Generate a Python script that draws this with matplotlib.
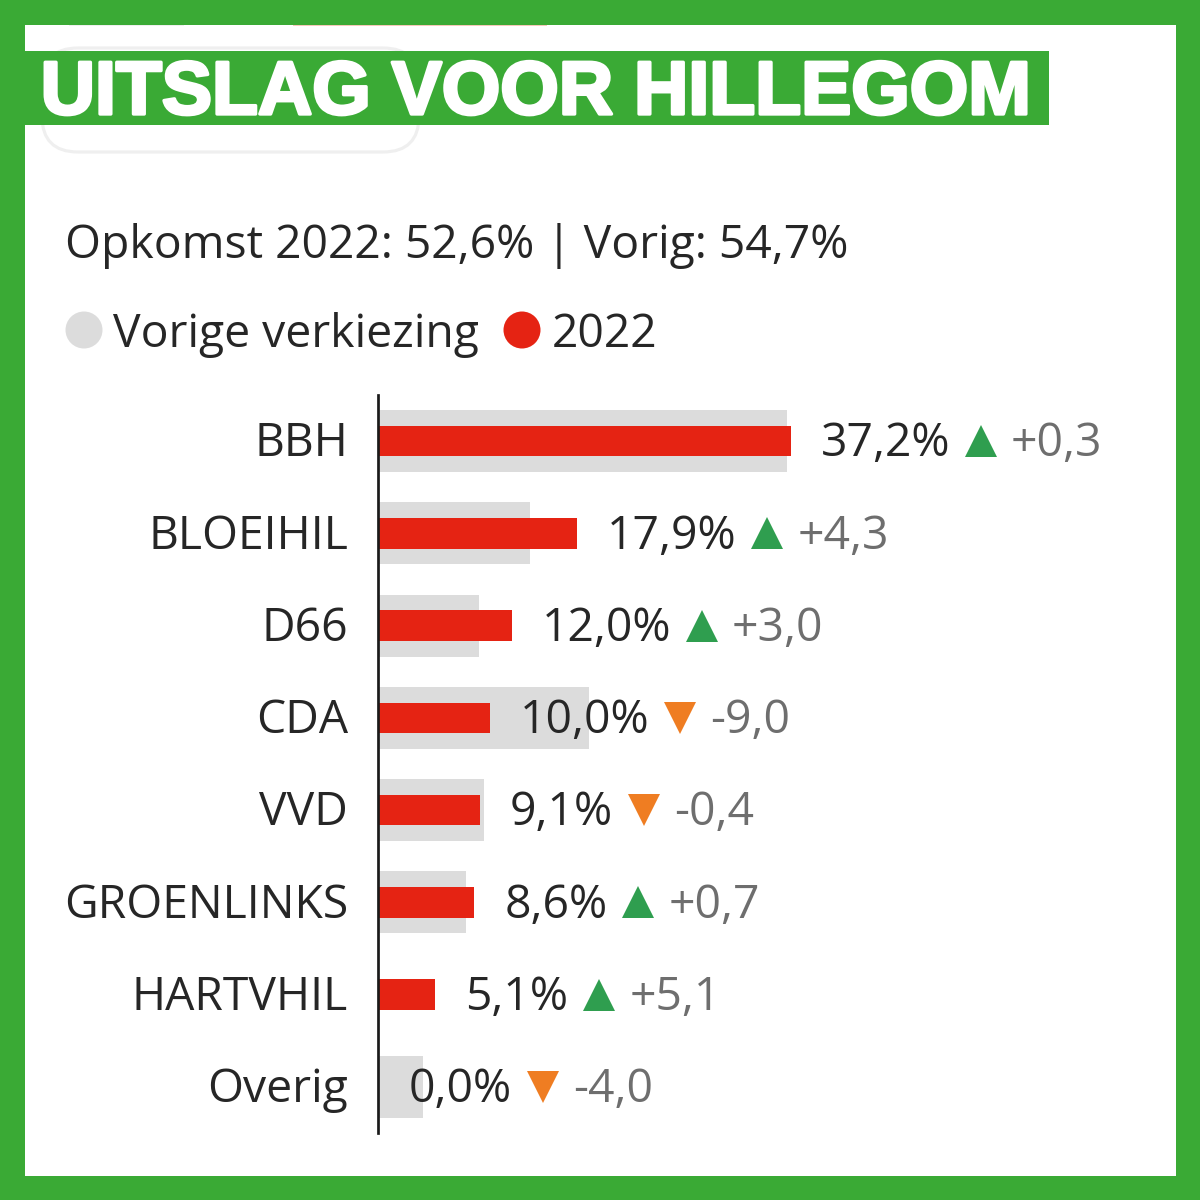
#!/usr/bin/env python3
import matplotlib
matplotlib.use("Agg")
import matplotlib.pyplot as plt
import matplotlib.patheffects as pe
from matplotlib.patches import Rectangle, Circle, FancyBboxPatch

plt.rcParams["font.family"] = ["Open Sans", "DejaVu Sans"]

GREEN = "#3aaa35"
RED = "#e52313"
GREY = "#dcdcdc"
TEXT = "#262626"
MUTED = "#6e6e6e"
UP = "#2f9e4f"
DOWN = "#ef7d22"
FS = 22.2

parties = ["BBH", "BLOEIHIL", "D66", "CDA", "VVD", "GROENLINKS", "HARTVHIL", "Overig"]
current = [37.2, 17.9, 12.0, 10.0, 9.1, 8.6, 5.1, 0.0]
change = [0.3, 4.3, 3.0, -9.0, -0.4, 0.7, 5.1, -4.0]
previous = [36.9, 13.6, 9.0, 19.0, 9.5, 7.9, 0.0, 4.0]

fig = plt.figure(figsize=(8, 8), dpi=150)
bg = fig.add_axes([0, 0, 1, 1])
bg.set_xlim(0, 1200)
bg.set_ylim(1200, 0)
bg.axis("off")

# frame
bg.add_patch(Rectangle((0, 0), 1200, 1200, color=GREEN, zorder=0))
bg.add_patch(Rectangle((24.5, 24.5), 1151, 1151, color="white", lw=0, zorder=1))

# leftovers of the screenshot around the banner
bg.add_patch(FancyBboxPatch((42, 48), 377, 104, boxstyle="round,pad=0,rounding_size=36",
                            fc="white", ec="#efefef", lw=1.5, zorder=2))
bg.add_patch(Rectangle((293, 24.5), 254, 1.5, color="#f6c9b8", lw=0, zorder=2))
bg.add_patch(Rectangle((69, 24.5), 115, 1.5, color="#efefef", lw=0, zorder=2))

# banner
bg.add_patch(Rectangle((24.5, 50.5), 1024.5, 74.5, color=GREEN, lw=0, zorder=3))
bg.text(536, 94.5, "UITSLAG VOOR HILLEGOM", color="white", fontsize=36.1,
        family=["Liberation Sans", "DejaVu Sans"], fontweight="bold",
        ha="center", va="center", zorder=4,
        path_effects=[pe.withStroke(linewidth=1.6, foreground="white")])

bg.text(65, 246, "Opkomst 2022: 52,6% | Vorig: 54,7%", color=TEXT, fontsize=FS,
        ha="left", va="center", zorder=4)

# legend
bg.add_patch(Circle((84, 330), 18.5, color=GREY, lw=0, zorder=4))
bg.text(113, 335, "Vorige verkiezing", color=TEXT, fontsize=FS, ha="left", va="center", zorder=4)
bg.add_patch(Circle((522, 330), 18.5, color=RED, lw=0, zorder=4))
bg.text(552, 335, "2022", color=TEXT, fontsize=FS, ha="left", va="center", zorder=4)

# bars, in a data axes placed over the chart area
PX = 11.07  # px per pct point
ax = fig.add_axes([379 / 1200, 1 - 1133 / 1200, 800 / 1200, 738 / 1200], zorder=5)
ax.patch.set_alpha(0)
ax.set_xlim(0, 800 / PX)
ax.set_ylim(7.5, -0.5)
ax.axis("off")

ypos = range(len(parties))
ax.barh(ypos, previous, 0.67, color=GREY, zorder=1)
ax.barh(ypos, current, 0.33, color=RED, zorder=2)
fig.add_artist(plt.Line2D([377.5 / 1200, 377.5 / 1200], [1 - 395 / 1200, 1 - 1133 / 1200],
                          color="#1a1a1a", lw=1.3, zorder=10))

for i, (name, cur, chg) in enumerate(zip(parties, current, change)):
    ty = i + 0.035
    ax.text(-31 / PX, ty, name, color=TEXT, fontsize=FS, ha="right", va="center", clip_on=False)
    x0 = cur + 30 / PX
    label = f"{cur:.1f}%".replace(".", ",")
    ax.text(x0, ty, label, color=TEXT, fontsize=FS, ha="left", va="center", zorder=3)
    # offsets depend on the label width (2 or 1 digit before the comma)
    mark_dx, val_dx = (160, 190) if cur >= 10 else (134, 164)
    ax.plot([x0 + mark_dx / PX], [i], marker="^" if chg > 0 else "v", ms=15,
            color=UP if chg > 0 else DOWN, mec="none", zorder=3, clip_on=False)
    ax.text(x0 + val_dx / PX, ty, f"{chg:+.1f}".replace(".", ","), color=MUTED,
            fontsize=FS, ha="left", va="center", zorder=3)

fig.savefig("out.png", dpi=150)
